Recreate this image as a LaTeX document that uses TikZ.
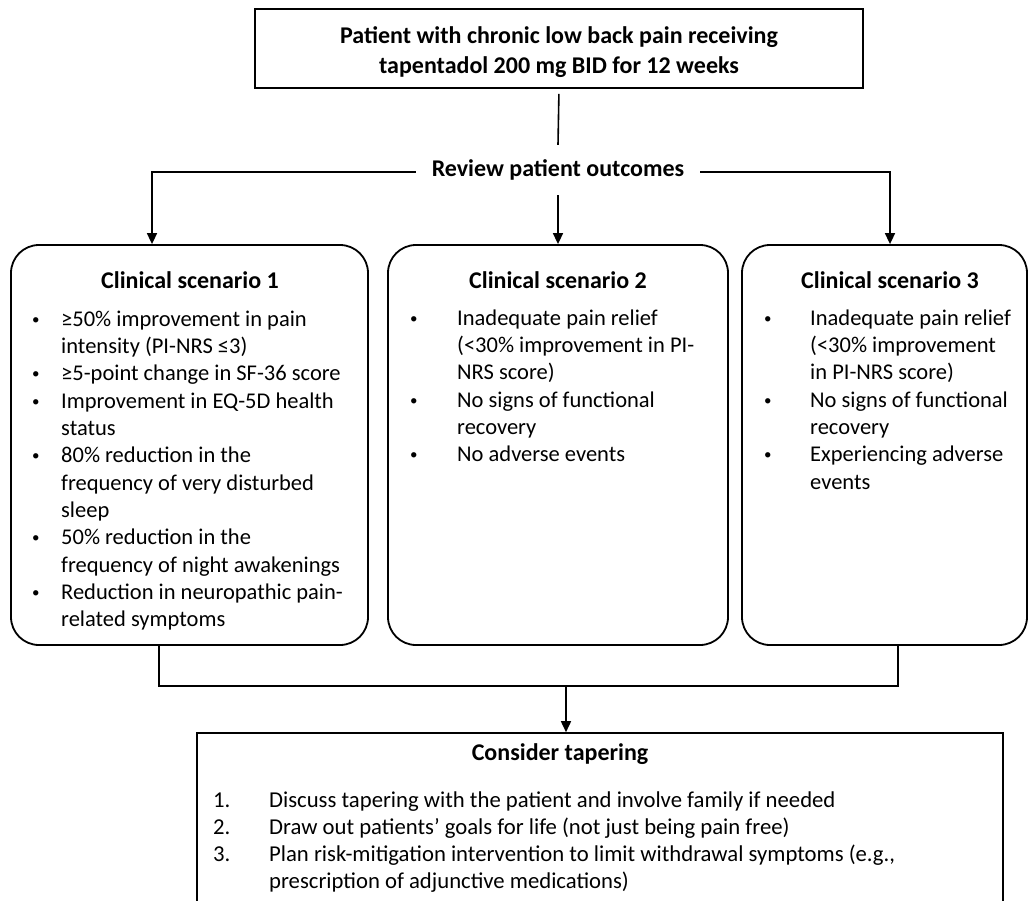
\documentclass[tikz,border=0pt]{standalone}
\usepackage{fontspec}
\setmainfont{Carlito}
\usetikzlibrary{arrows.meta}
\tikzset{
  box/.style={draw, line width=1.8pt, rounded corners=28pt, inner sep=0pt},
  plainbox/.style={draw, line width=1.6pt, inner sep=0pt},
  conn/.style={line width=1.6pt},
  arr/.style={conn, -{Triangle[length=11pt,width=10pt]}},
  ttl/.style={font=\fontsize{24}{29.5}\selectfont\bfseries, inner sep=0pt, align=center},
  body/.style={font=\fontsize{22.5}{27.3}\selectfont, inner sep=0pt, align=left, anchor=north west},
  numbody/.style={font=\fontsize{22.7}{27}\selectfont, inner sep=0pt, align=left, anchor=north west},
}
\newcommand{\bul}[1]{\makebox[#1][l]{\hspace*{1pt}\raisebox{2pt}{\fontsize{15}{15}\selectfont •}}}
\newcommand{\ind}[1]{\makebox[#1]{}}
\begin{document}
\begin{tikzpicture}[x=1pt,y=-1pt]
\path[use as bounding box] (0,0) rectangle (1028,900);
\clip (0,0) rectangle (1028,900);

% top box
\node[plainbox, minimum width=608pt, minimum height=79pt] (top) at (559,48.5) {};
\node[ttl] (toptext) at (559,52) {Patient with chronic low back pain receiving\\tapentadol 200 mg BID for 12 weeks};

% review
\node[ttl, minimum height=50pt, inner xsep=16pt] (review) at (558,170) {Review patient outcomes};

% scenario boxes
\node[box, minimum width=357pt, minimum height=400pt] (box1) at (189.5,445) {};
\node[box, minimum width=340pt, minimum height=400pt] (box2) at (558,445) {};
\node[box, minimum width=285pt, minimum height=400pt] (box3) at (884.5,445) {};

\node[ttl] (t1) at (190,280) {Clinical scenario 1};
\node[ttl] (t2) at (558,280) {Clinical scenario 2};
\node[ttl] (t3) at (890,280) {Clinical scenario 3};

\node[body] (l1) at (31,307) {\strut\bul{30pt}≥50\% improvement in pain\\
\ind{30pt}intensity (PI-NRS ≤3)\\
\bul{30pt}≥5-point change in SF-36 score\\
\bul{30pt}Improvement in EQ-5D health\\
\ind{30pt}status\\
\bul{30pt}80\% reduction in the\\
\ind{30pt}frequency of very disturbed\\
\ind{30pt}sleep\\
\bul{30pt}50\% reduction in the\\
\ind{30pt}frequency of night awakenings\\
\bul{30pt}Reduction in neuropathic pain-\\
\ind{30pt}related symptoms};

\node[body] (l2) at (409,306) {\strut\bul{48pt}Inadequate pain relief\\
\ind{48pt}(<30\% improvement in PI-\\
\ind{48pt}NRS score)\\
\bul{48pt}No signs of functional\\
\ind{48pt}recovery\\
\bul{48pt}No adverse events};

\node[body] (l3) at (763,306) {\strut\bul{47pt}Inadequate pain relief\\
\ind{47pt}(<30\% improvement\\
\ind{47pt}in PI-NRS score)\\
\bul{47pt}No signs of functional\\
\ind{47pt}recovery\\
\bul{47pt}Experiencing adverse\\
\ind{47pt}events};

% bottom box
\node[plainbox, minimum width=806pt, minimum height=200pt] (bottom) at (600,833) {};
\node[ttl] (tb) at (560,754) {Consider tapering};
\node[numbody] (lb) at (213,788.1) {\strut\makebox[56pt][l]{1.}Discuss tapering with the patient and involve family if needed\\
\makebox[56pt][l]{2.}Draw out patients’ goals for life (not just being pain free)\\
\makebox[56pt][l]{3.}Plan risk-mitigation intervention to limit withdrawal symptoms (e.g.,\\
\ind{56pt}prescription of adjunctive medications)};

% connectors
\coordinate (join) at (566,686);
\draw[conn, shorten <=5pt] (top.south) -- (review.north);
\draw[arr] ([yshift=-2pt]review.west) -| ([xshift=-37.5pt]box1.north);
\draw[arr] ([yshift=-2pt]review.east) -| ([xshift=5.5pt]box3.north);
\draw[arr] (review.south) -- (box2.north);
\draw[conn] ([xshift=-30.5pt]box1.south) |- (join);
\draw[conn] ([xshift=13.5pt]box3.south) |- (join);
\draw[arr] (join) -- (join |- bottom.north);
\end{tikzpicture}
\end{document}
